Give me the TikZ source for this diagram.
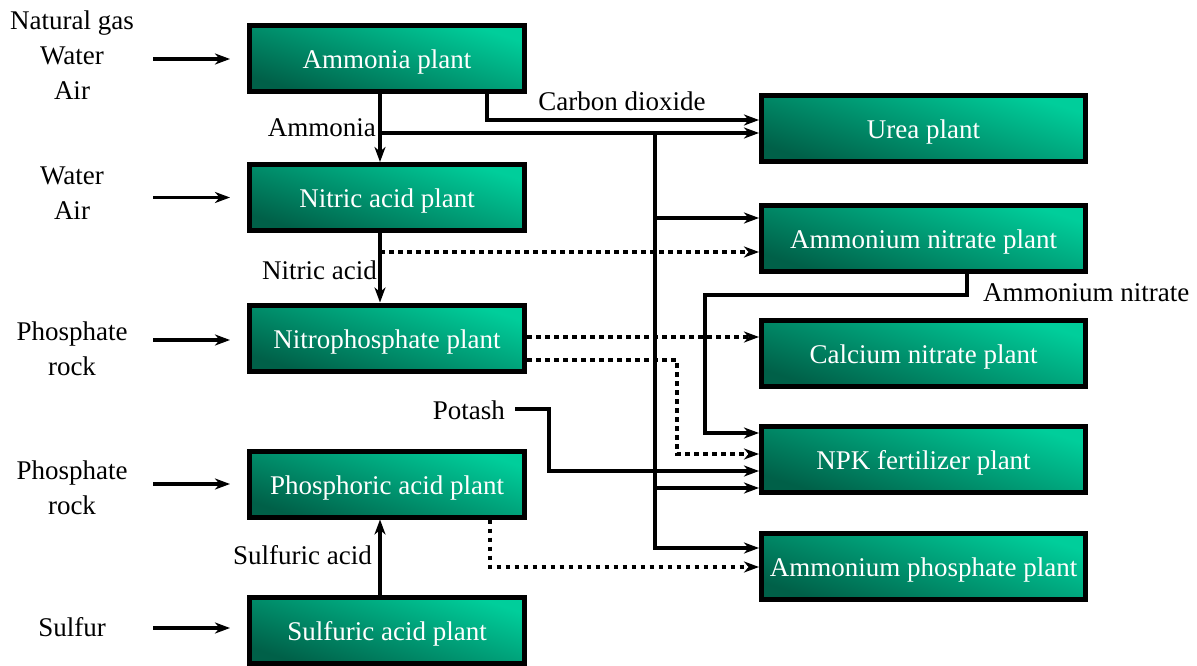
\documentclass[tikz,border=0pt]{standalone}
\usepackage{fontspec}
\setmainfont{Liberation Serif}
\usetikzlibrary{arrows.meta}
\definecolor{gdark}{RGB}{0,96,72}
\definecolor{gbright}{RGB}{0,206,155}
\begin{document}
\begin{tikzpicture}[x=1pt,y=-1pt,
  plant/.style={draw=black, line width=5pt, bottom color=gdark, top color=gbright, shading angle=-18, text=white, font=\fontsize{27}{33}\selectfont, minimum height=66pt, inner sep=0pt, text height=20pt, text depth=0pt},
  lplant/.style={plant, minimum width=275pt},
  rplant/.style={plant, minimum width=324pt},
  lbl/.style={font=\fontsize{27}{35}\selectfont, inner sep=0pt, align=center},
  flow/.style={line width=3.6pt, -{Stealth[length=15pt,width=11pt,inset=4.5pt]}},
  dflow/.style={flow, dash pattern=on 4.5pt off 4.5pt},
]
\useasboundingbox (0,0) rectangle (1197,666);

% plants
\node[lplant] (amm) at (387,59) {Ammonia plant};
\node[lplant] (nit) at (387,197.5) {Nitric acid plant};
\node[lplant] (nph) at (387,338) {Nitrophosphate plant};
\node[lplant] (pho) at (387,484) {Phosphoric acid plant};
\node[lplant] (sul) at (387,630) {Sulfuric acid plant};
\node[rplant] (urea) at (923.5,129) {Urea plant};
\node[rplant] (an) at (923.5,238) {Ammonium nitrate plant};
\node[rplant] (can) at (923.5,353.5) {Calcium nitrate plant};
\node[rplant] (npk) at (923.5,459) {NPK fertilizer plant};
\node[rplant] (ap) at (923.5,566.5) {Ammonium phosphate plant};

% input labels
\node[lbl] (in1) at (72,55) {Natural gas\\Water\\Air};
\node[lbl] (in2) at (72,193) {Water\\Air};
\node[lbl] (in3) at (72,349) {Phosphate\\rock};
\node[lbl] (in4) at (72,488) {Phosphate\\rock};
\node[lbl] (in5) at (72,627) {Sulfur};

% stream labels
\node[lbl, anchor=east] (lamm) at (376,128) {Ammonia};
\node[lbl, anchor=east] (lnit) at (377,270) {Nitric acid};
\node[lbl] (lco2) at (622,101) {Carbon dioxide};
\node[lbl, anchor=west] (lan) at (983,293) {Ammonium nitrate};
\node[lbl, anchor=east] (potash) at (505,410) {Potash};
\node[lbl, anchor=east] (lsul) at (372,555) {Sulfuric acid};

% input arrows
\draw[flow] (153,59) -- ([xshift=-17pt]amm.west);
\draw[flow] (153,197.5) -- ([xshift=-17pt]nit.west);
\draw[flow] (153,340) -- (230,340);
\draw[flow] (153,484) -- ([xshift=-17pt]pho.west);
\draw[flow] (153,628) -- (230,628);

% ammonia
\draw[flow] (amm.south -| 380,0) -- (nit.north -| 380,0);
\draw[flow] (380,133) -- (urea.west |- 0,133);
% carbon dioxide
\draw[flow] (amm.south -| 487,0) -- (487,120) -- (urea.west |- 0,120);
% ammonia bus
\draw[flow] (655,133) -- (655,548) -- (ap.west |- 0,548);
\draw[flow] (655,218) -- (an.west |- 0,218);
\draw[flow] (655,488) -- (npk.west |- 0,488);
% nitric acid
\draw[flow] (nit.south -| 380,0) -- (nph.north -| 380,0);
\draw[dflow] (380,252) -- (an.west |- 0,252);
% nitrophosphate
\draw[dflow] (nph.east |- 0,337) -- (can.west |- 0,337);
\draw[dflow] (nph.east |- 0,360) -- (677,360) -- (677,454) -- (npk.west |- 0,454);
% ammonium nitrate
\draw[flow] (an.south -| 967,0) -- (967,295) -- (705,295) -- (705,433) -- (npk.west |- 0,433);
% potash
\draw[flow] ([xshift=10pt]potash.east |- 0,409) -- (549,409) -- (549,471) -- (npk.west |- 0,471);
% sulfuric acid
\draw[flow] (sul.north -| 380,0) -- (pho.south -| 380,0);
% phosphoric acid
\draw[dflow] (pho.south -| 490,0) -- (490,567) -- (ap.west |- 0,567);
\end{tikzpicture}
\end{document}
